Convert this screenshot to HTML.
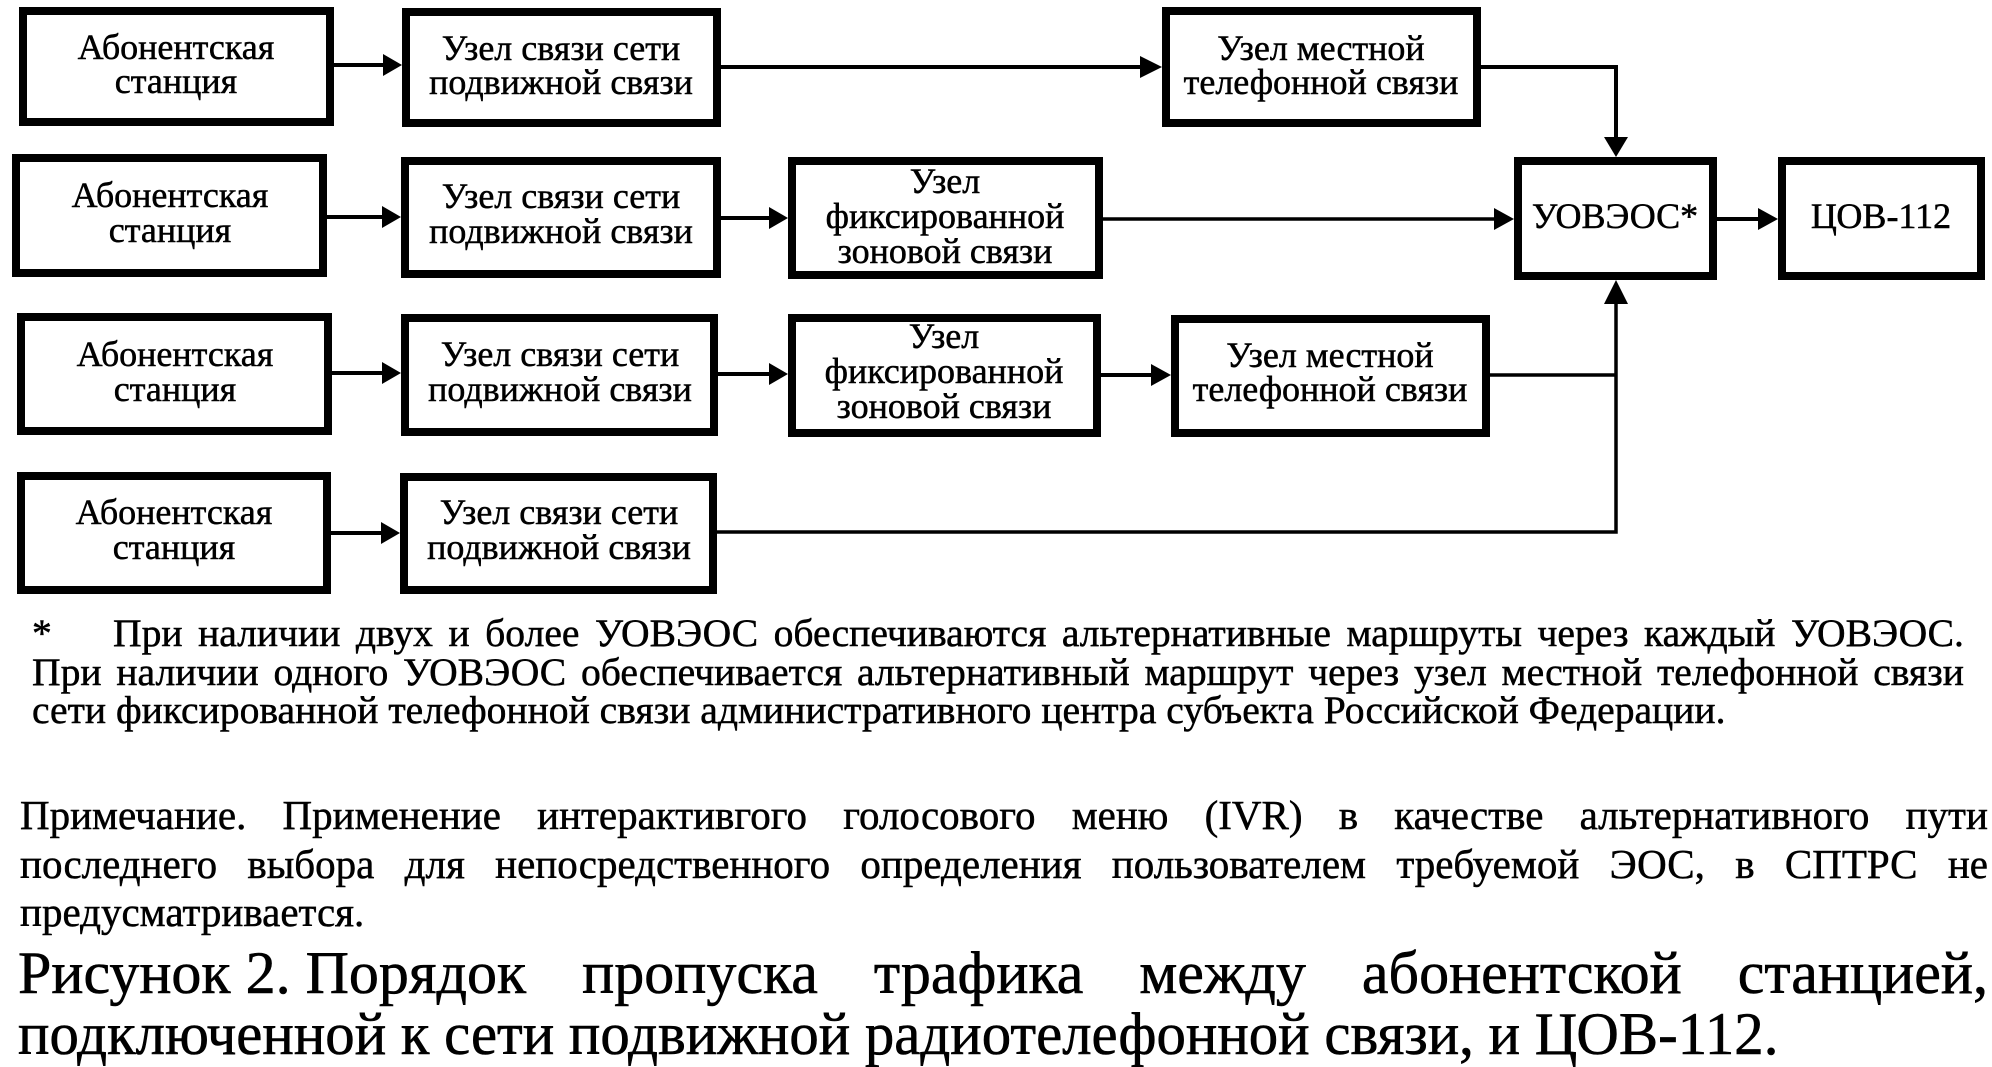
<!DOCTYPE html>
<html><head><meta charset="utf-8">
<style>
html,body{margin:0;padding:0;background:#fff;}
body{width:1992px;height:1066px;position:relative;overflow:hidden;font-family:"Liberation Serif","Noto Serif CJK SC",serif;color:#000;}
svg{position:absolute;left:0;top:0;}
.t{position:absolute;white-space:nowrap;-webkit-text-stroke:0.5px #000;}
.fn{font-size:39.6px;line-height:40px;}
.nt{font-size:41px;line-height:41px;}
.cp{font-size:60px;line-height:60px;-webkit-text-stroke:0.6px #000;}
.j{display:flex;justify-content:space-between;}
</style></head><body>
<svg width="1992" height="1066" viewBox="0 0 1992 1066" xmlns="http://www.w3.org/2000/svg">
<g fill="#fff" stroke="#000" stroke-width="8">
<rect x="23" y="11" width="307" height="111"/>
<rect x="406" y="12" width="311" height="111"/>
<rect x="1166" y="11" width="311" height="112"/>
<rect x="16" y="158" width="307" height="115"/>
<rect x="405" y="161" width="312" height="113"/>
<rect x="792" y="161" width="307" height="114"/>
<rect x="1518" y="161" width="195" height="115"/>
<rect x="1782" y="161" width="199" height="115"/>
<rect x="21" y="317" width="307" height="114"/>
<rect x="405" y="318" width="309" height="114"/>
<rect x="792" y="318" width="305" height="115"/>
<rect x="1175" y="319" width="311" height="114"/>
<rect x="21" y="476" width="306" height="114"/>
<rect x="404" y="477" width="309" height="113"/>
</g>
<g stroke="#000" stroke-width="4" fill="none">
<line x1="334" y1="65" x2="386" y2="65"/>
<line x1="721" y1="67" x2="1144" y2="67"/>
<polyline points="1481,67 1616,67 1616,140" stroke-linejoin="miter"/>
<line x1="327" y1="217" x2="385" y2="217"/>
<line x1="721" y1="218" x2="772" y2="218"/>
<line x1="1103" y1="219" x2="1496" y2="219" stroke-width="3.5"/>
<line x1="1717" y1="219" x2="1762" y2="219"/>
<line x1="332" y1="373" x2="385" y2="373"/>
<line x1="718" y1="374" x2="772" y2="374"/>
<line x1="1101" y1="375" x2="1155" y2="375"/>
<line x1="1490" y1="375" x2="1616" y2="375" stroke-width="3.5"/>
<polyline points="717,532 1616,532 1616,300" stroke-width="3.5"/>
<line x1="331" y1="533" x2="384" y2="533"/>
</g>
<g fill="#000">
<polygon points="383,54 402,65 383,76"/>
<polygon points="1140,56 1162,67 1140,78"/>
<polygon points="1604,137 1628,137 1616,157"/>
<polygon points="382,206 401,217 382,228"/>
<polygon points="769,207 788,218 769,229"/>
<polygon points="1494,208 1514,219 1494,230"/>
<polygon points="1758,208 1778,219 1758,230"/>
<polygon points="382,362 401,373 382,384"/>
<polygon points="769,363 788,374 769,385"/>
<polygon points="1151,364 1171,375 1151,386"/>
<polygon points="1604,304 1628,304 1616,280"/>
<polygon points="381,522 400,533 381,544"/>
</g>
<g font-family="Liberation Serif, serif" font-size="36" text-anchor="middle" fill="#000" stroke="#000" stroke-width="0.5">
<text x="176" y="59">Абонентская</text>
<text x="176" y="93">станция</text>
<text x="561" y="60">Узел связи сети</text>
<text x="561" y="94">подвижной связи</text>
<text x="1321" y="60">Узел местной</text>
<text x="1321" y="94">телефонной связи</text>
<text x="170" y="207">Абонентская</text>
<text x="170" y="242">станция</text>
<text x="561" y="208">Узел связи сети</text>
<text x="561" y="243">подвижной связи</text>
<text x="945" y="193">Узел</text>
<text x="945" y="228">фиксированной</text>
<text x="945" y="263">зоновой связи</text>
<text x="1615" y="228">УОВЭОС*</text>
<text x="1881" y="228">ЦОВ-112</text>
<text x="175" y="366">Абонентская</text>
<text x="175" y="401">станция</text>
<text x="560" y="366">Узел связи сети</text>
<text x="560" y="401">подвижной связи</text>
<text x="944" y="348">Узел</text>
<text x="944" y="383">фиксированной</text>
<text x="944" y="418">зоновой связи</text>
<text x="1330" y="367">Узел местной</text>
<text x="1330" y="401">телефонной связи</text>
<text x="174" y="524">Абонентская</text>
<text x="174" y="559">станция</text>
<text x="559" y="524">Узел связи сети</text>
<text x="559" y="559">подвижной связи</text>
</g>
</svg>

<div class="t fn" style="left:32px;top:613px;">*</div>
<div class="t fn j" style="left:113px;top:613px;width:1851px;"><span>При</span><span>наличии</span><span>двух</span><span>и</span><span>более</span><span>УОВЭОС</span><span>обеспечиваются</span><span>альтернативные</span><span>маршруты</span><span>через</span><span>каждый</span><span>УОВЭОС.</span></div>
<div class="t fn j" style="left:32px;top:652px;width:1932px;"><span>При</span><span>наличии</span><span>одного</span><span>УОВЭОС</span><span>обеспечивается</span><span>альтернативный</span><span>маршрут</span><span>через</span><span>узел</span><span>местной</span><span>телефонной</span><span>связи</span></div>
<div class="t fn" style="left:32px;top:690px;">сети фиксированной телефонной связи административного центра субъекта Российской Федерации.</div>

<div class="t nt j" style="left:20px;top:795px;width:1968px;"><span>Примечание.</span><span>Применение</span><span>интерактивгого</span><span>голосового</span><span>меню</span><span>(IVR)</span><span>в</span><span>качестве</span><span>альтернативного</span><span>пути</span></div>
<div class="t nt j" style="left:20px;top:844px;width:1968px;"><span>последнего</span><span>выбора</span><span>для</span><span>непосредственного</span><span>определения</span><span>пользователем</span><span>требуемой</span><span>ЭОС,</span><span>в</span><span>СПТРС</span><span>не</span></div>
<div class="t nt" style="left:20px;top:892px;">предусматривается.</div>

<div class="t cp j" style="left:18px;top:943px;width:1970px;"><span>Рисунок 2. Порядок</span><span>пропуска</span><span>трафика</span><span>между</span><span>абонентской</span><span>станцией,</span></div>
<div class="t cp" style="left:18px;top:1004px;transform:scaleX(0.98);transform-origin:0 0;">подключенной к сети подвижной радиотелефонной связи, и ЦОВ-112.</div>
</body></html>
